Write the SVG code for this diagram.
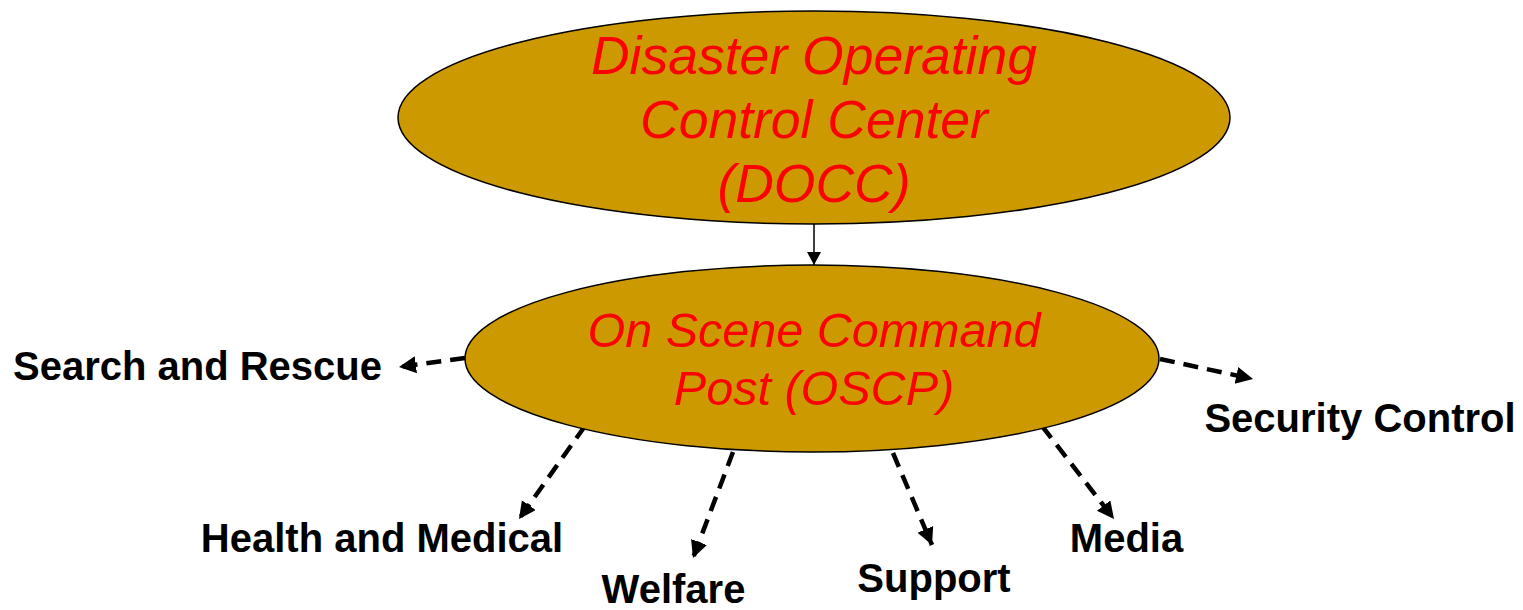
<svg xmlns="http://www.w3.org/2000/svg" width="1523" height="610" viewBox="0 0 1523 610">
<style>
.node{fill:#CC9900;stroke:#000;stroke-width:1.5}
.title{font-family:"Liberation Sans",Arial,sans-serif;font-style:italic;fill:#FF0000;text-anchor:middle}
.lbl{font-family:"Liberation Sans",Arial,sans-serif;font-weight:bold;font-size:40px;fill:#000;text-anchor:middle}
.dash{fill:none;stroke:#000;stroke-width:4.5;stroke-dasharray:15 9}
.solid{fill:none;stroke:#000;stroke-width:1.5}
</style>
<defs>
<marker id="ah" markerUnits="userSpaceOnUse" markerWidth="18" markerHeight="18" refX="17" refY="8.5" orient="auto">
<path d="M0,0 L17,8.5 L0,17 z" fill="#000"/>
</marker>
<marker id="ahs" markerUnits="userSpaceOnUse" markerWidth="14" markerHeight="14" refX="13" refY="7" orient="auto">
<path d="M0,0 L13,7 L0,14 z" fill="#000"/>
</marker>
</defs>
<g id="connectors">
<line class="solid" x1="814" y1="224" x2="814" y2="265" marker-end="url(#ahs)"/>
<line class="dash" x1="465" y1="358" x2="399" y2="367" marker-end="url(#ah)"/>
<line class="dash" x1="1160" y1="359" x2="1253" y2="379" marker-end="url(#ah)"/>
<line class="dash" x1="585" y1="426" x2="519" y2="519" marker-end="url(#ah)"/>
<line class="dash" x1="733" y1="452" x2="693" y2="558" marker-end="url(#ah)"/>
<line class="dash" x1="893" y1="453" x2="932" y2="545" marker-end="url(#ah)"/>
<line class="dash" x1="1042" y1="426" x2="1114" y2="519" marker-end="url(#ah)"/>
</g>
<g id="docc">
<ellipse class="node" cx="814" cy="117.5" rx="416" ry="106.5"/>
<text class="title" font-size="53.5"><tspan x="814" y="74">Disaster Operating</tspan><tspan x="814" y="138">Control Center</tspan><tspan x="814" y="202">(DOCC)</tspan></text>
</g>
<g id="oscp">
<ellipse class="node" cx="812" cy="358.5" rx="347" ry="93.5"/>
<text class="title" font-size="48.5"><tspan x="814" y="347">On Scene Command</tspan><tspan x="814" y="405">Post (OSCP)</tspan></text>
</g>
<g id="search-rescue"><text class="lbl" x="197.5" y="380">Search and Rescue</text></g>
<g id="security-control"><text class="lbl" x="1360" y="432">Security Control</text></g>
<g id="health-medical"><text class="lbl" x="382" y="552">Health and Medical</text></g>
<g id="welfare"><text class="lbl" x="673.5" y="603">Welfare</text></g>
<g id="support"><text class="lbl" x="934" y="592">Support</text></g>
<g id="media"><text class="lbl" x="1126.5" y="552">Media</text></g>
</svg>
